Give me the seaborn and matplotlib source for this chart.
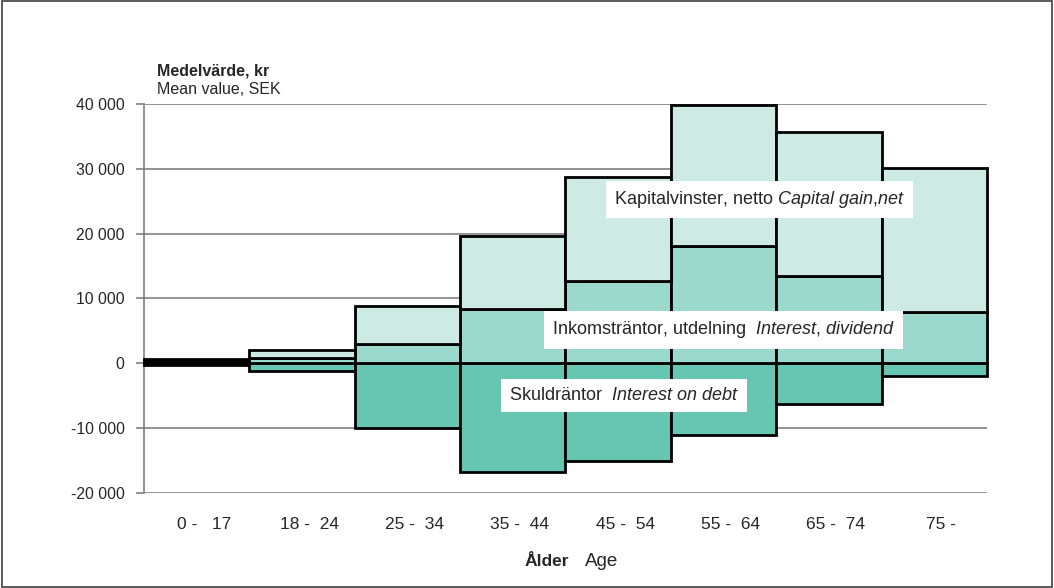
import pandas as pd
import matplotlib.pyplot as plt
import matplotlib.patches as mpatches
import matplotlib.ticker as mticker
import matplotlib.transforms as mtransforms
import seaborn as sns

# ---------------  Data  ------------
age_groups = ['0 -   17', '18 -  24', '25 -  34', '35 -  44', '45 -  54', '55 -  64', '65 -  74', '75 -']
interest_dividend = [400, 870, 2950, 8350, 12700, 18100, 13400, 7900]
capital_gain = [300, 1200, 5850, 11300, 16000, 21700, 22300, 22200]
interest_debt = [-200, -1200, -10000, -16700, -15000, -11000, -6300, -2000]

df = pd.DataFrame({'age': age_groups,
                   'interest': interest_dividend,
                   'gain': capital_gain,
                   'debt': interest_debt})

c_light = '#cdebe4'
c_mid = '#9bd9cc'
c_dark = '#66c6b2'

sns.set_style('white')
plt.rcParams['font.family'] = ['Liberation Sans', 'DejaVu Sans']
plt.rcParams['mathtext.fontset'] = 'custom'
plt.rcParams['mathtext.rm'] = 'Liberation Sans'
plt.rcParams['mathtext.it'] = 'Liberation Sans:italic'

fig = plt.figure(figsize=(10.54, 5.88), dpi=100)
ax = fig.add_axes([0.1366, 0.1616, 0.7998, 0.6615])

# stacked bars: debt below zero, interest + capital gain above
bar_kw = dict(width=1.0, edgecolor='black', linewidth=2, ax=ax, zorder=3, clip_on=False)
sns.barplot(data=df, x='age', y='debt', color=c_dark, saturation=1, **bar_kw)
sns.barplot(data=df, x='age', y='interest', color=c_mid, saturation=1, **bar_kw)
sns.barplot(data=df, x='age', y='gain', bottom=df['interest'], color=c_light, saturation=1, **bar_kw)

# -----------  Axes setup  --------------
ax.set_ylim(-20000, 40000)
ax.set_xlim(-0.5, len(age_groups) - 0.5)
ax.yaxis.set_major_locator(mticker.MultipleLocator(10000))
ax.yaxis.set_major_formatter(mticker.FuncFormatter(lambda v, p: f'{int(v):,}'.replace(',', ' ')))
ax.grid(axis='y', color='#808080', linewidth=1.2, zorder=0)
ax.set_axisbelow(True)
for s in ['top', 'right', 'bottom']:
    ax.spines[s].set_visible(False)
ax.spines['left'].set_color('#808080')
ax.spines['left'].set_linewidth(1.2)
ax.tick_params(axis='y', left=True, length=6, width=1.2, color='#808080', pad=8, labelsize=11.3)
ax.tick_params(axis='x', bottom=False, pad=14, labelsize=12.5)
shift = mtransforms.ScaledTranslation(7 / 100, 0, fig.dpi_scale_trans)
for lab in ax.get_xticklabels():
    lab.set_transform(lab.get_transform() + shift)
ax.set_xlabel('')
ax.set_ylabel('')

# labels inside chart
box = dict(facecolor='white', edgecolor='none', pad=6)
lab_kw = dict(ha='center', va='center', fontsize=13, bbox=box, zorder=5)
ax.text(5.34, 25250, r'Kapitalvinster, netto $\mathit{Capital\ gain{,}net}$', **lab_kw)
ax.text(5.00, 5170, r'Inkomsträntor, utdelning  $\mathit{Interest{,}\ dividend}$', **lab_kw)
ax.text(4.055, -4940, r'Skuldräntor  $\mathit{Interest\ on\ debt}$', **lab_kw)

# titles
fig.text(157 / 1054, 1 - 71 / 588, 'Medelvärde, kr', fontsize=11.5, weight='bold', ha='left', va='center')
fig.text(157 / 1054, 1 - 89 / 588, 'Mean value, SEK', fontsize=11.5, ha='left', va='center')
fig.text(569 / 1054, 1 - 561 / 588, 'Ålder', fontsize=12.5, weight='bold', ha='right', va='center')
fig.text(585 / 1054, 1 - 562 / 588, 'Age', fontsize=13.5, ha='left', va='center')

# outer frame
fig.patches.append(mpatches.Rectangle((0.002, 0.002), 0.996, 0.996, transform=fig.transFigure,
                                      fill=False, edgecolor='#404040', linewidth=1.2))

fig.savefig('out.png', dpi=100)
